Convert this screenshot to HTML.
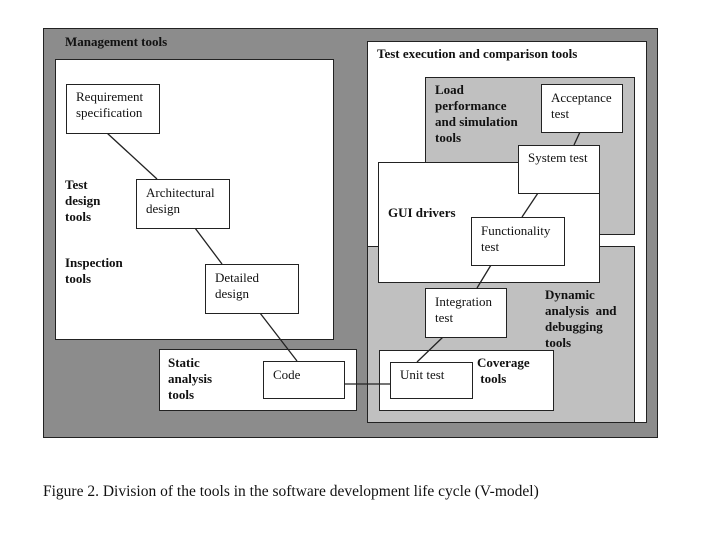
<!DOCTYPE html><html><head><style>
body{margin:0;width:720px;height:540px;background:#fff;position:relative;overflow:hidden;font-family:"Liberation Serif",serif;}
.b{position:absolute;box-sizing:border-box;border:1.5px solid #222;}
.t{position:absolute;font-size:13px;line-height:16px;color:#111;}
.bold{font-weight:bold;}
</style></head><body>
<div class="b" style="left:43px;top:28px;width:615px;height:410px;background:#8c8c8c;"></div>
<div class="b" style="left:55px;top:59px;width:279px;height:281px;background:#fff;"></div>
<div class="b" style="left:367px;top:41px;width:280px;height:382px;background:#fff;"></div>
<div class="b" style="left:425px;top:77px;width:210px;height:158px;background:#c0c0c0;"></div>
<div class="b" style="left:367px;top:246px;width:268px;height:177px;background:#c0c0c0;"></div>
<div class="b" style="left:378px;top:162px;width:222px;height:121px;background:#fff;"></div>
<div class="b" style="left:159px;top:349px;width:198px;height:62px;background:#fff;"></div>
<div class="b" style="left:379px;top:350px;width:175px;height:61px;background:#fff;"></div>
<svg style="position:absolute;left:0;top:0" width="720" height="540"><g stroke="#222" stroke-width="1.3">
<line x1="107" y1="133" x2="157" y2="179"/><line x1="195" y1="228" x2="222" y2="264"/>
<line x1="260" y1="313" x2="297" y2="361"/><line x1="344" y1="384" x2="390" y2="384"/>
<line x1="417" y1="362" x2="443" y2="337"/><line x1="477" y1="288" x2="491" y2="265"/>
<line x1="522" y1="217" x2="538" y2="193"/><line x1="574" y1="145" x2="580" y2="132"/></g></svg>
<div class="b" style="left:66px;top:84px;width:94px;height:50px;background:#fff;"></div>
<div class="b" style="left:136px;top:179px;width:94px;height:50px;background:#fff;"></div>
<div class="b" style="left:205px;top:264px;width:94px;height:50px;background:#fff;"></div>
<div class="b" style="left:263px;top:361px;width:82px;height:38px;background:#fff;"></div>
<div class="b" style="left:541px;top:84px;width:82px;height:49px;background:#fff;"></div>
<div class="b" style="left:518px;top:145px;width:82px;height:49px;background:#fff;"></div>
<div class="b" style="left:471px;top:217px;width:94px;height:49px;background:#fff;"></div>
<div class="b" style="left:425px;top:288px;width:82px;height:50px;background:#fff;"></div>
<div class="b" style="left:390px;top:362px;width:83px;height:37px;background:#fff;"></div>
<div class="t bold" style="left:65px;top:34px;">Management tools</div>
<div class="t" style="left:76px;top:89px;">Requirement<br>specification</div>
<div class="t bold" style="left:65px;top:177px;">Test<br>design<br>tools</div>
<div class="t" style="left:146px;top:185px;">Architectural<br>design</div>
<div class="t bold" style="left:65px;top:255px;">Inspection<br>tools</div>
<div class="t" style="left:215px;top:270px;">Detailed<br>design</div>
<div class="t bold" style="left:168px;top:355px;">Static<br>analysis<br>tools</div>
<div class="t" style="left:273px;top:367px;">Code</div>
<div class="t bold" style="left:377px;top:46px;">Test execution and comparison tools</div>
<div class="t bold" style="left:435px;top:82px;">Load<br>performance<br>and simulation<br>tools</div>
<div class="t" style="left:551px;top:90px;">Acceptance<br>test</div>
<div class="t" style="left:528px;top:150px;">System test</div>
<div class="t bold" style="left:388px;top:205px;">GUI drivers</div>
<div class="t" style="left:481px;top:223px;">Functionality<br>test</div>
<div class="t" style="left:435px;top:294px;">Integration<br>test</div>
<div class="t bold" style="left:545px;top:287px;">Dynamic<br>analysis&nbsp; and<br>debugging<br>tools</div>
<div class="t bold" style="left:477px;top:355px;">Coverage<br>&nbsp;tools</div>
<div class="t" style="left:400px;top:367px;">Unit test</div>
<div class="t" style="left:43px;top:483px;font-size:15.5px;line-height:18px;">Figure 2. Division of the tools in the software development life cycle (V-model)</div>
</body></html>
